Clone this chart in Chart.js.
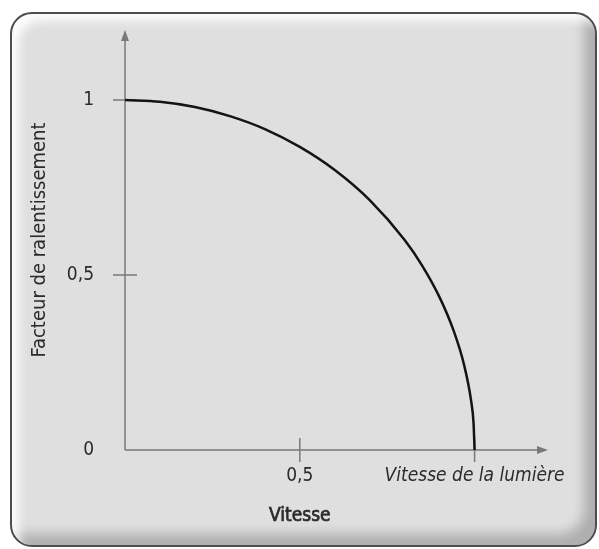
<!DOCTYPE html>
<html>
<head>
<meta charset="utf-8">
<script src="https://cdn.jsdelivr.net/npm/chart.js@4/dist/chart.umd.min.js"></script>
<style>
  html, body { margin: 0; padding: 0; background: #ffffff; }
  #wrap { position: relative; width: 599px; height: 549px; overflow: hidden; }
  #panel {
    position: absolute; left: 10px; top: 12px; width: 587px; height: 535px;
    box-sizing: border-box; border: 2px solid #4d4d4d; border-radius: 22px;
    background: #dfdfdf;
    box-shadow: inset 10px 10px 10px -3px rgba(255,255,255,0.9),
                inset -16px -16px 12px -5px rgba(0,0,0,0.22);
  }
  #c { position: absolute; left: 0; top: 0; }
</style>
</head>
<body>
<div id="wrap">
  <div id="panel"></div>
  <canvas id="c" width="599" height="549"></canvas>
</div>
<script>
// ---- data ----
const speeds = [0, 0.1, 0.2, 0.3, 0.4, 0.5, 0.6, 0.7, 0.8, 0.85, 0.9, 0.94, 0.97, 0.99, 0.997, 1];
const slowdown = [1, 0.995, 0.98, 0.954, 0.917, 0.866, 0.8, 0.714, 0.6, 0.527, 0.436, 0.341, 0.243, 0.141, 0.077, 0];
const xTickValues = [0.5, 1];
const xTickLabels = ['0,5', 'Vitesse de la lumière'];
const yTickValues = [0, 0.5, 1];
const yTickLabels = ['0', '0,5', '1'];
const xTitle = 'Vitesse';
const yTitle = 'Facteur de ralentissement';

const FONT = "'DejaVu Sans Condensed', 'DejaVu Sans', sans-serif";
const AXIS_COLOR = '#7a7a7a';
const TEXT_COLOR = '#2b2b2b';

const axesPlugin = {
  id: 'axesPlugin',
  beforeDatasetsDraw(chart) {
    const ctx = chart.ctx;
    const xs = chart.scales.x, ys = chart.scales.y;
    const x0 = xs.getPixelForValue(0), y0 = ys.getPixelForValue(0);
    const xEnd = chart.chartArea.right, yEnd = chart.chartArea.top;
    ctx.save();
    ctx.strokeStyle = AXIS_COLOR;
    ctx.fillStyle = AXIS_COLOR;
    ctx.lineWidth = 1.5;
    // axis lines
    ctx.beginPath();
    ctx.moveTo(x0, y0); ctx.lineTo(xEnd - 8, y0);
    ctx.moveTo(x0, y0); ctx.lineTo(x0, yEnd + 8);
    ctx.stroke();
    // arrow heads
    ctx.beginPath();
    ctx.moveTo(xEnd, y0); ctx.lineTo(xEnd - 11, y0 - 4); ctx.lineTo(xEnd - 11, y0 + 4); ctx.closePath();
    ctx.fill();
    ctx.beginPath();
    ctx.moveTo(x0, yEnd); ctx.lineTo(x0 - 4, yEnd + 11); ctx.lineTo(x0 + 4, yEnd + 11); ctx.closePath();
    ctx.fill();
    // tick marks
    ctx.lineWidth = 1.5;
    ctx.beginPath();
    xTickValues.forEach(v => {
      const px = xs.getPixelForValue(v);
      ctx.moveTo(px, y0 - 12); ctx.lineTo(px, y0 + 12);
    });
    yTickValues.forEach(v => {
      if (v === 0) return;
      const py = ys.getPixelForValue(v);
      ctx.moveTo(x0 - 12, py); ctx.lineTo(x0 + 12, py);
    });
    ctx.stroke();
    ctx.restore();
  },
  afterDraw(chart) {
    const ctx = chart.ctx;
    const xs = chart.scales.x;
    ctx.save();
    ctx.font = "19px " + FONT;
    ctx.fillStyle = TEXT_COLOR;
    ctx.strokeStyle = TEXT_COLOR;
    ctx.lineWidth = 0.7;
    ctx.textAlign = 'center';
    ctx.textBaseline = 'middle';
    const tx = xs.getPixelForValue(0.5);
    ctx.fillText(xTitle, tx, 516);
    ctx.strokeText(xTitle, tx, 516);
    ctx.restore();
  }
};

new Chart(document.getElementById('c'), {
  type: 'scatter',
  data: {
    datasets: [{
      data: speeds.map((v, i) => ({ x: v, y: slowdown[i] })),
      showLine: true,
      borderColor: '#141414',
      borderWidth: 2.5,
      pointRadius: 0,
      cubicInterpolationMode: 'monotone',
      fill: false
    }]
  },
  options: {
    responsive: false,
    animation: false,
    devicePixelRatio: 1,
    layout: { padding: { left: 28, right: 51, top: 30, bottom: 0 } },
    plugins: { legend: { display: false }, tooltip: { enabled: false } },
    scales: {
      x: {
        type: 'linear', min: 0, max: 1.21, position: 'bottom',
        grid: { display: false, drawTicks: false, tickLength: 0 },
        border: { display: false },
        afterBuildTicks: s => { s.ticks = xTickValues.map(v => ({ value: v })); },
        afterFit: s => { s.height = 99; s.paddingLeft = 0; s.paddingRight = 0; },
        ticks: {
          padding: 15,
          color: TEXT_COLOR,
          maxRotation: 0, minRotation: 0, autoSkip: false,
          font: c => (c.tick && c.tick.value === 1)
            ? { family: FONT, size: 19, style: 'italic' }
            : { family: FONT, size: 19 },
          callback: v => xTickLabels[xTickValues.indexOf(v)]
        }
      },
      y: {
        type: 'linear', min: 0, max: 1.2, position: 'left',
        grid: { display: false, drawTicks: false, tickLength: 0 },
        border: { display: false },
        afterBuildTicks: s => { s.ticks = yTickValues.map(v => ({ value: v })); },
        afterFit: s => { s.width = 97; s.paddingTop = 0; s.paddingBottom = 0; },
        ticks: {
          padding: 31,
          color: TEXT_COLOR,
          autoSkip: false,
          font: { family: FONT, size: 19 },
          callback: v => yTickLabels[yTickValues.indexOf(v)]
        },
        title: {
          display: true,
          text: yTitle,
          color: TEXT_COLOR,
          font: { family: FONT, size: 20 },
          padding: { top: 0, bottom: 0 }
        }
      }
    }
  },
  plugins: [axesPlugin]
});
</script>
</body>
</html>
